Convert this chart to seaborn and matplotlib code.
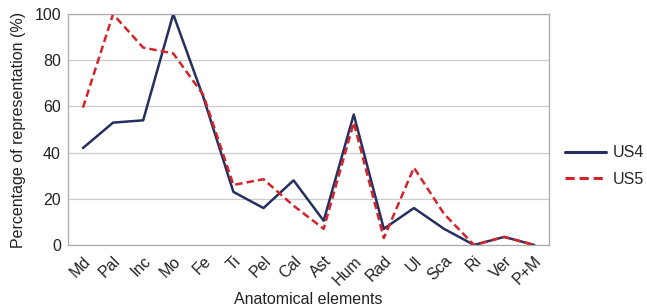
import matplotlib
matplotlib.use("Agg")
import matplotlib.pyplot as plt
import seaborn as sns
import pandas as pd
import numpy as np

elements = ["Md", "Pal", "Inc", "Mo", "Fe", "Ti", "Pel", "Cal", "Ast",
            "Hum", "Rad", "Ul", "Sca", "Ri", "Ver", "P+M"]
us4 = [42, 53, 54, 100, 64, 23, 16, 28, 10.5, 56.5, 7, 16, 7, 0, 3.5, 0]
us5 = [59.5, 100, 85.5, 83, 65, 26, 28.5, 17, 7, 53, 3, 33.5, 13.5, 0, 3.5, 0]

df = pd.DataFrame({
    "pos": list(range(len(elements))) * 2,
    "value": us4 + us5,
    "series": ["US4"] * len(elements) + ["US5"] * len(elements),
})

sns.set_style("white")
plt.rcParams["font.family"] = ["Liberation Sans", "DejaVu Sans"]
fs = 11.5

fig = plt.figure(figsize=(6.47, 3.07), dpi=100)
ax = fig.add_axes([0.105, 0.202, 0.744, 0.752])

palette = {"US4": "#262f5e", "US5": "#d1242b"}
sns.lineplot(data=df, x="pos", y="value", hue="series", style="series",
             palette=palette, dashes={"US4": "", "US5": (3, 1.6)},
             linewidth=1.8, ax=ax, legend=False)

ax.set_xlim(-0.5, len(elements) - 0.5)
ax.set_ylim(0, 100)
ax.set_yticks([0, 20, 40, 60, 80, 100])
ax.yaxis.grid(True, color="#cccccc", linewidth=0.9)
ax.set_axisbelow(True)

ax.set_xticks(np.arange(len(elements)))
ax.set_xticklabels(elements, rotation=45, ha="right", rotation_mode="anchor")
ax.set_xticks(np.arange(-0.5, len(elements)), minor=True)
ax.tick_params(axis="x", which="major", length=0, pad=6, labelsize=fs, colors="#222222")
ax.tick_params(axis="x", which="minor", length=4, width=0.9, color="#aaaaaa", direction="out")
ax.tick_params(axis="y", length=0, labelsize=fs, colors="#222222", pad=5)

for side in ["left", "right", "top", "bottom"]:
    ax.spines[side].set_color("#aaaaaa")
    ax.spines[side].set_linewidth(0.9)

ax.set_xlabel("Anatomical elements", fontsize=fs, color="#222222", labelpad=3)
ax.set_ylabel("Percentage of representation (%)", fontsize=fs, color="#222222", labelpad=6)

handles = [plt.Line2D([], [], color=palette["US4"], lw=2.2),
           plt.Line2D([], [], color=palette["US5"], lw=2.2, dashes=(3, 1.6))]
fig.legend(handles, ["US4", "US5"], loc="center left",
           bbox_to_anchor=(0.868, 0.459), frameon=False, fontsize=fs,
           borderaxespad=0, borderpad=0.2,
           handlelength=2.6, handletextpad=0.4, labelspacing=0.75)

fig.savefig("out.png", dpi=100)
